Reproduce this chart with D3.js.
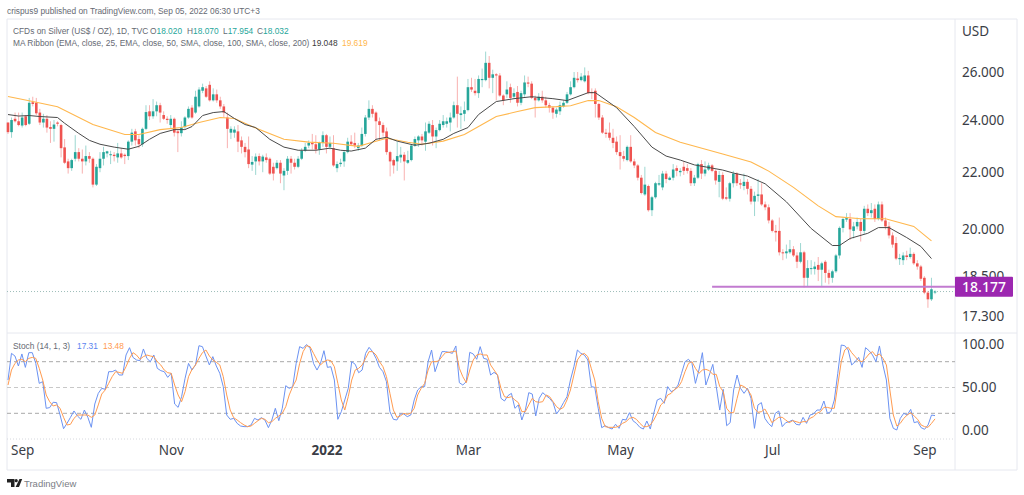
<!DOCTYPE html>
<html>
<head>
<meta charset="utf-8">
<script src="https://cdn.jsdelivr.net/npm/d3@7"></script>
<style>
  html, body { margin: 0; padding: 0; background: #fff; }
  svg { display: block; }
  text { font-family: "Noto Sans", sans-serif; }
  text.small { font-family: "Liberation Sans", sans-serif; }
</style>
</head>
<body>
<svg id="chart" width="1024" height="495"></svg>
<script>
// daily candles, each row is [open, close, high, low]
const candleRows = [
[23.9,23.52,23.9,23.45],[23.52,24.0,24.1,23.3],[24.05,23.95,24.3,23.9],[23.95,23.8,24.3,23.75],[23.78,24.1,24.3,23.7],[24.15,23.8,24.2,23.75],
[23.85,24.7,24.9,23.8],[24.72,24.65,24.95,24.55],[24.7,24.27,24.9,24.2],[24.3,23.9,24.45,23.8],[23.9,24.05,24.25,23.7],[24.05,23.7,24.2,23.5],
[23.72,23.65,23.95,23.1],[23.65,23.82,24.0,23.15],[23.9,23.85,23.95,23.75],[23.8,22.9,23.85,22.55],[22.93,22.35,23.25,22.3],[22.4,22.15,22.5,21.95],
[22.15,22.45,22.5,22.05],[22.5,22.75,23.4,22.4],[22.75,22.5,22.9,22.4],[22.5,22.4,22.85,21.95],[22.4,22.6,23.0,22.25],[22.6,22.5,22.75,22.35],
[22.5,21.55,22.55,21.45],[21.55,22.2,22.3,21.5],[22.15,22.5,22.75,22.0],[22.5,22.75,22.95,22.25],[22.7,22.78,22.8,22.55],[22.65,22.67,22.8,22.3],
[22.65,22.6,22.75,22.4],[22.55,22.7,23.1,22.35],[22.7,22.55,22.9,22.5],[22.65,22.6,22.7,22.3],[22.6,23.15,23.2,22.45],[23.15,23.5,23.65,23.0],
[23.55,23.2,23.65,23.0],[23.25,23.05,23.4,22.9],[23.05,23.65,23.7,22.95],[23.65,24.32,24.6,23.6],[24.35,24.15,24.6,24.0],[24.15,24.35,24.85,24.05],
[24.35,24.6,24.75,24.15],[24.6,24.3,24.7,23.9],[24.2,24.05,24.35,24.0],[24.05,24.0,24.15,23.85],[23.8,24.05,24.2,23.65],
[24.05,23.5,24.1,23.35],[23.55,23.48,23.6,22.75],[23.48,23.7,23.95,23.35],[23.72,24.1,24.15,23.65],[24.1,24.45,24.55,24.05],[24.5,24.1,24.6,24.05],
[24.3,24.95,25.2,24.25],[24.55,25.25,25.35,24.5],[25.2,25.35,25.5,25.1],[25.3,24.95,25.4,24.9],[25.45,24.8,25.6,24.75],[24.8,25.05,25.3,24.75],
[25.05,24.8,25.25,24.7],[24.8,24.55,24.95,24.45],[24.55,24.3,24.65,24.1],[24.1,23.65,24.3,22.9],[23.5,23.65,23.75,23.25],[23.5,23.62,23.75,23.3],
[23.55,23.15,23.8,22.75],[23.2,22.95,23.35,22.7],[22.95,22.75,23.1,22.55],[22.85,22.3,23.35,22.15],[22.28,22.38,22.6,22.05],[22.4,22.58,22.7,21.9],
[22.6,22.4,22.7,22.25],[22.4,22.58,22.65,22.0],[22.55,22.45,22.7,22.35],[22.5,21.95,22.55,21.9],[22.2,21.95,22.35,21.7],[22.15,22.35,22.45,22.1],
[22.35,21.95,22.45,21.6],[21.88,22.05,22.15,21.35],[22.05,22.5,22.6,21.9],[22.5,22.35,22.6,21.95],[22.35,22.2,22.5,22.1],[22.2,22.5,22.6,22.15],
[22.5,22.8,22.9,22.45],[22.8,22.95,23.1,22.75],[23.0,23.1,23.2,22.9],[23.1,23.05,23.45,22.85],[23.05,22.85,23.4,22.7],[22.85,23.1,23.15,22.65],
[23.1,23.4,23.55,22.95],[23.4,22.95,23.45,22.7],[22.95,23.1,23.35,22.85],[22.9,22.25,23.4,22.2],[22.15,22.3,22.4,22.0],[22.3,22.35,22.5,22.2],
[22.4,22.75,22.8,22.2],[22.75,23.15,23.3,22.7],[23.15,23.05,23.4,23.0],[23.1,23.0,23.5,22.9],[22.9,23.0,23.1,22.8],[23.0,23.45,23.7,22.95],
[23.45,24.1,24.2,23.35],[24.1,24.45,24.8,24.0],[24.45,24.25,24.6,24.1],[24.3,23.95,24.35,23.2],[23.95,23.8,24.1,23.2],[23.8,23.5,23.9,23.35],
[23.55,22.75,23.7,22.65],[22.75,22.4,22.8,21.85],[22.45,22.25,22.5,21.95],[22.4,22.6,23.15,22.05],[22.55,22.65,22.95,22.35],[22.65,22.4,22.75,21.7],
[22.35,22.45,22.8,22.3],[22.45,23.0,23.05,22.4],[23.0,23.25,23.35,22.95],[23.2,23.35,23.4,22.95],[23.35,23.2,23.45,23.0],[23.15,23.55,23.9,22.8],
[23.5,23.85,23.95,23.45],[23.8,23.35,24.0,23.0],[23.35,23.6,23.7,22.9],[23.6,23.85,24.0,23.55],[23.8,23.95,24.2,23.7],[23.85,23.95,24.1,23.7],
[23.9,24.1,24.3,23.55],[24.1,24.6,24.75,24.05],[24.6,24.25,25.8,23.7],[24.2,24.27,24.55,23.65],[24.25,24.4,24.75,23.95],[24.4,25.35,25.7,24.35],
[25.35,25.25,25.75,25.15],[25.2,25.1,25.7,25.0],[25.1,25.7,25.85,24.9],[25.65,25.7,26.15,25.35],[25.65,26.4,26.9,25.6],[26.4,25.75,26.7,25.3],
[25.75,25.9,26.1,25.1],[25.9,25.85,25.95,24.8],[25.85,25.0,25.95,24.95],[25.0,24.8,25.05,24.6],[25.05,25.25,25.6,24.9],[25.35,24.9,25.5,24.7],
[24.95,25.1,25.3,24.85],[25.15,24.7,25.4,24.55],[24.7,25.1,25.2,24.6],[25.05,25.55,25.85,24.95],[25.55,25.5,25.8,25.35],[25.5,24.9,25.6,24.85],
[24.9,24.8,25.0,24.1],[24.8,24.95,25.1,24.75],[24.95,24.8,25.2,24.7],[24.8,24.6,24.95,24.5],[24.6,24.5,24.7,24.3],[24.5,24.3,24.55,24.05],
[24.25,24.42,24.5,24.1],[24.35,24.6,24.75,24.2],[24.55,24.7,24.8,24.5],[24.7,25.05,25.15,24.65],[25.05,25.35,25.6,25.0],[25.35,25.75,26.0,25.3],
[25.72,25.65,26.0,25.55],[25.65,25.8,25.95,25.6],[25.6,25.85,26.2,25.55],[25.85,25.1,26.05,25.05],[25.15,25.1,25.3,24.85],[25.2,24.65,25.3,24.1],
[24.65,24.1,24.7,24.0],[24.1,23.5,24.2,23.45],[23.5,23.45,23.65,23.3],[23.5,23.3,23.9,23.2],[23.3,23.1,23.65,22.9],[23.15,22.75,23.35,22.65],
[22.75,22.6,23.4,22.1],[22.6,22.5,22.8,22.4],[22.45,22.95,23.0,22.4],[22.95,22.4,23.4,22.35],[22.4,22.25,22.5,22.15],[22.25,21.8,22.3,21.7],
[21.8,21.25,21.9,21.2],[21.2,21.55,22.2,21.15],[21.5,20.65,21.55,20.6],[20.65,21.1,21.15,20.45],[21.1,21.6,21.65,21.05],[21.55,21.6,21.9,21.5],
[21.45,21.95,22.05,21.35],[21.95,21.75,22.05,21.6],[21.72,21.8,21.85,21.7],[21.8,22.1,22.3,21.7],[22.15,22.05,22.25,21.85],[22.0,22.05,22.15,21.85],
[22.2,22.05,22.4,21.9],[22.15,22.05,22.3,21.95],[22.05,21.6,22.15,21.5],[21.6,21.8,21.9,21.5],[21.8,22.3,22.35,21.75],[22.3,21.95,22.45,21.75],
[21.95,22.1,22.4,21.85],[22.1,22.25,22.35,22.05],[22.25,22.05,22.3,22.0],[22.05,21.7,22.1,21.55],[21.65,21.9,22.05,21.1],[21.9,21.05,22.0,21.0],
[21.1,21.05,21.45,21.0],[21.05,21.6,21.65,20.95],[21.6,21.95,22.05,21.45],[21.95,21.6,22.0,21.5],[21.6,21.55,21.75,21.4],[21.5,21.65,21.95,21.35],
[21.65,21.4,21.75,21.2],[21.4,20.95,21.5,20.85],[20.95,21.15,21.3,20.45],[21.15,21.2,21.75,20.95],[21.2,20.85,21.6,20.8],[20.85,20.75,20.95,20.65],
[20.75,20.3,20.85,20.2],[20.3,19.95,20.35,19.9],[19.95,19.9,20.15,19.6],[19.95,19.25,20.4,19.15],[19.25,19.22,19.35,19.0],[19.22,19.28,19.5,19.05],
[19.25,19.35,19.65,19.2],[19.35,19.15,19.45,19.1],[19.15,18.95,19.25,18.75],[18.95,19.25,19.55,18.9],[19.25,18.45,19.3,18.15],[18.45,18.75,19.0,18.2],
[18.72,18.75,19.0,18.55],[18.72,18.8,18.95,18.55],[18.85,18.7,19.1,18.35],[18.7,18.9,18.95,18.2],[18.95,18.6,19.0,18.3],[18.6,18.45,18.7,18.25],
[18.45,18.65,18.7,18.3],[18.65,19.15,19.2,18.6],[19.15,20.05,20.1,19.05],[20.05,20.35,20.4,19.9],[20.33,20.38,20.55,20.25],[20.35,20.0,20.55,19.65],
[19.95,20.1,20.25,19.7],[20.1,20.25,20.4,20.0],[20.25,19.95,20.35,19.6],[19.95,20.7,20.8,19.85],[20.7,20.55,20.85,20.45],[20.55,20.65,20.9,20.4],
[20.7,20.35,20.85,20.25],[20.35,20.85,20.95,20.3],[20.85,20.3,20.95,20.25],[20.3,20.1,20.4,20.0],[20.1,19.8,20.25,19.7],[19.8,19.5,19.9,19.4],
[19.55,19.05,19.75,19.0],[19.03,19.07,19.2,18.85],[19.0,19.15,19.25,18.85],[19.15,19.1,19.3,19.0],[19.1,19.2,19.4,19.05],[19.2,18.9,19.25,18.85],
[18.9,18.8,19.0,18.7],[18.8,18.42,18.85,18.35],[18.45,18.0,18.5,17.95],[18.0,17.8,18.05,17.55],[17.8,18.1,18.45,17.75],[18.02,18.032,18.07,17.954]
];

// moving averages, read at the candle numbers in the *Days arrays
const ema25Days = [0,3,6,9,14,16,20,23,26,30,34,37,40,43,47,50,52,55,58,61,64,67,70,74,78,82,87,91,94,97,101,104,107,110,115,119,123,126,130,133,138,143,148,154,158,164,166,172,177,182,186,190,194,202,205,209,214,220,227,233,235,238,243,246,249,254,258,261];
const ema25 = [24.22,24.16,24.18,24.14,24.1,23.87,23.47,23.2,23.05,22.94,22.86,22.97,23.24,23.47,23.62,23.62,23.74,24.18,24.3,24.34,24.06,23.82,23.7,23.24,22.94,22.82,22.82,22.9,22.82,22.79,22.9,23.24,23.32,23.17,23.01,23.09,23.24,23.47,23.7,24.22,24.75,24.87,24.95,24.87,24.79,25.12,25.12,24.5,23.74,22.94,22.6,22.45,22.27,22.08,21.97,21.86,21.58,20.94,20.03,19.47,19.47,19.7,19.87,20.06,20.06,19.73,19.44,19.05];
const ema50Days = [0,7,14,24,33,37,43,49,54,60,64,69,78,85,92,99,103,107,113,117,123,129,133,138,144,149,155,159,164,167,172,177,183,190,202,210,215,222,229,234,241,248,256,261];
const ema50 = [24.96,24.75,24.54,23.82,23.43,23.43,23.62,23.7,23.9,24.1,24.06,23.74,23.24,23.13,23.09,22.97,23.13,23.28,23.13,23.05,23.17,23.43,23.74,24.14,24.34,24.5,24.54,24.58,24.79,24.79,24.54,24.1,23.51,23.13,22.68,22.38,22.04,21.45,20.8,20.43,20.36,20.36,20.1,19.619];

// stochastic %K and %D
const stochK = [
58.7,89.7,86.6,75,89,73.4,90.5,90.5,78,54.8,56.8,25.8,26.6,32.8,32.4,18,2.1,8.3,15.3,22.7,16.9,13,23.8,15.3,3.7,30.8,43.2,49,47.9,68.4,68.4,70.3,64.5,64.5,87.8,96.3,85,82,81.2,94.8,83.9,80,87.8,72.3,69.6,68.4,61.8,66.5,30.8,26.9,39.3,60.7,78,70.3,76.2,98.6,97.5,86.6,76.2,85.9,75,66.5,51,18,13,14.1,8.3,5.2,4.5,4.5,6.4,14.1,12.2,14.9,12.2,3.3,12.2,25.8,11.4,25.8,52.1,49,51,78,97.5,95.5,100,95.5,78,70.3,78,92.8,73.4,74.2,58.7,13,21.9,
35.5,49,80,77,67.2,70.3,89.7,96.7,91.7,83.9,73.4,68.4,56.8,21.9,13,12.2,19.2,19.2,16.1,18,35.5,47.1,51,51,80,93.6,68.4,80,91.7,91.7,90.9,89.7,98.3,55.6,52.9,56.8,90.9,89,82.8,97.5,83.9,82.8,64.5,67.6,64.5,37.4,34.3,40.5,43.2,25.8,29.7,12.2,23.8,44,42.4,16.9,37.4,44,40.5,37.4,32.4,19.2,25,32.4,39.3,58.7,74.2,93.6,89.7,87.8,82,51,50.2,25.8,3.3,5.6,3.3,1.7,7.2,2.5,13,12.2,20.7,11.4,8.3,3.7,1.7,11,1.7,20,35.5,37.4,31.6,51,45.2,47.1,52.9,66.5,
80,82.8,78,54.8,70.3,90.5,52.9,64.5,76.9,51,23.8,47.9,5.6,9.1,47.1,64.5,49,43.2,49,37.4,2.5,29.7,32.4,14.1,8.3,4.5,20,22.7,4.5,9.1,10.3,12.2,7.2,6.4,15.3,8.3,18,19.2,23.8,23.8,34.3,20,21.9,35.5,66.5,99.4,98.6,93.6,76.2,80,85,73.4,96.3,92.8,87.8,80,98.3,76.2,58.7,14.1,2.5,0.6,14.1,20,18,24.6,9.1,10.3,3.3,1.4,6.4,18,17.31
];
const stochD = [
52.9,70.3,78,82,82.8,80,83.9,85,83.9,72.3,58.7,41.3,33.5,28.5,29.7,25.8,15.3,6.4,7.2,14.1,18,18,18,18,15.3,18,29.7,42.4,47.1,54.8,62.6,68.4,67.6,66.5,74.2,83.9,90.5,87.8,82.8,85.9,87.8,86.6,85.9,80,76.2,70.3,67.2,66.5,52.9,41.3,33.5,45.2,62.6,71.1,76.2,83.9,90.5,93.6,86.6,82,79.3,76.2,62.6,41.3,23.8,14.9,12.2,9.1,6.4,4.5,5.2,8.3,11.4,14.1,13,9.1,10.3,14.1,16.9,20,27.7,41.3,51,58.7,78,91.7,98.6,97.5,89.7,82,76.2,80,82,81.2,74.2,54.8,35.5,
23.8,39.3,58.7,70.3,72.3,76.2,83.9,91.7,91.7,87.8,80,74.2,62.6,43.2,23.8,15.3,16.9,20,18.8,20,25.8,41.3,49,54.8,70.3,80,80,80.8,85.9,90.5,90.9,91.7,92.4,72.3,62.6,55.6,70.3,82,87.8,89,87.8,87.8,76.2,70.3,64.5,49,39.3,38.2,39.3,35.5,32.4,21.9,21.9,29.7,37.4,33.5,32.8,33.5,41.3,39.3,33.5,27.7,24.6,26.9,35.5,47.1,64.5,82,87.8,89.7,85.9,72.3,58.7,33.5,14.1,4.5,3.7,3.7,3.7,5.2,8.3,10.3,14.1,15.3,13,8.3,4.5,4.5,6.4,12.2,20,29.7,33.5,41.3,43.2,47.9,50.2,56.8,
68.4,78,80,72.3,66.5,70.3,71.1,69.6,65.3,65.3,51,45.2,25.8,20.7,20.7,37.4,52.9,51,47.9,41.3,25.8,21.1,21.9,25,18,9.1,12.2,15.3,15.3,12.2,9.1,11.4,10.3,9.1,10.3,10.3,14.1,16.1,20,21.9,26.9,26.9,25.8,25.8,52.9,80,93.6,96.7,90.5,85.9,81.2,80,83.9,89,91.7,86.6,89,83.9,76.2,47.1,18,5.2,8.3,14.1,18,20.7,16.9,13,6.4,4.5,3.7,8.3,13.48
];

const priceTicks = [26, 24, 22, 20, 18.5, 17.3];
const stochTicks = [100, 50, 0];
const stochBands = [80, 50, 20];
const timeTickDays = [4, 46, 90, 130, 173, 216, 259];
const timeTickLabels = ["Sep", "Nov", "2022", "Mar", "May", "Jul", "Sep"];
const lastClose = 18.032;
const supportLevel = 18.177;
const supportStartDay = 199;

const upColor = "#26a69a", downColor = "#ef5350";
const axisX = 955, frameL = 7, frameR = 1017;
const smallSize = 8.35;
const svg = d3.select("#chart");

const x = d3.scaleLinear().domain([0, candleRows.length - 1]).range([8, 935]);
const xStoch = d3.scaleLinear().domain([0, stochK.length - 1]).range([8, 935]);
const y = d3.scaleLog().domain([26, 17.3]).range([72, 316.4]);
const yStoch = d3.scaleLinear().domain([0, 100]).range([430.5, 344.5]);

// frame of the panes
const borders = [[frameL, 19, frameR, 19], [frameL, 19, frameL, 470], [frameL, 470, frameR, 470],
  [frameR, 19, frameR, 470], [axisX, 19, axisX, 470], [frameL, 333, frameR, 333]];
svg.selectAll(".border").data(borders).enter().append("line")
  .attr("x1", d => d[0]).attr("y1", d => d[1]).attr("x2", d => d[2]).attr("y2", d => d[3])
  .attr("stroke", "#e6e8ef").attr("stroke-width", 1);
svg.append("line").attr("x1", frameL).attr("x2", axisX).attr("y1", 439).attr("y2", 439)
  .attr("stroke", "#d6d8de").attr("stroke-dasharray", "1,2");

// last price dotted line
svg.append("line").attr("x1", frameL).attr("x2", axisX).attr("y1", y(lastClose)).attr("y2", y(lastClose))
  .attr("stroke", "#9dbdb9").attr("stroke-dasharray", "1,2");

// candles
const candle = svg.append("g").selectAll("g").data(candleRows).enter().append("g");
const candleColor = d => d[1] >= d[0] ? upColor : downColor;
candle.append("line")
  .attr("x1", (d, i) => x(i)).attr("x2", (d, i) => x(i))
  .attr("y1", d => y(d[2])).attr("y2", d => y(d[3]))
  .attr("stroke", candleColor).attr("stroke-opacity", 0.45).attr("stroke-width", 1);
candle.append("rect")
  .attr("x", (d, i) => x(i) - 1.3).attr("width", 2.6)
  .attr("y", d => y(Math.max(d[0], d[1])))
  .attr("height", d => Math.max(1, y(Math.min(d[0], d[1])) - y(Math.max(d[0], d[1]))))
  .attr("fill", candleColor);

// moving averages
const maLine = days => d3.line().x((d, i) => x(days[i])).y(d => y(d));
svg.append("path").attr("d", maLine(ema50Days)(ema50)).attr("fill", "none").attr("stroke", "#ffb74d").attr("stroke-width", 1.1);
svg.append("path").attr("d", maLine(ema25Days)(ema25)).attr("fill", "none").attr("stroke", "#4a4a4a").attr("stroke-width", 1);

// stochastic pane
svg.selectAll(".band").data(stochBands).enter().append("line")
  .attr("x1", frameL).attr("x2", axisX).attr("y1", d => yStoch(d)).attr("y2", d => yStoch(d))
  .attr("stroke", d => d === 50 ? "#c8c8c8" : "#a8a8a8").attr("stroke-dasharray", "4,3");
const stochLine = d3.line().x((d, i) => xStoch(i)).y(d => yStoch(d));
svg.append("path").attr("d", stochLine(stochK)).attr("fill", "none").attr("stroke", "#6b92f2").attr("stroke-width", 1);
svg.append("path").attr("d", stochLine(stochD)).attr("fill", "none").attr("stroke", "#ff9b50").attr("stroke-width", 1);

// axes
const styleAxis = g => {
  g.select(".domain").remove();
  g.selectAll("text").attr("font-family", '"Noto Sans", sans-serif').attr("font-size", 13.5).attr("fill", "#3a3d46");
};
svg.append("g").attr("transform", `translate(${axisX},0)`)
  .call(d3.axisRight(y).tickValues(priceTicks).tickFormat(d3.format(".3f")).tickSize(0).tickPadding(7))
  .call(styleAxis);
svg.append("g").attr("transform", `translate(${axisX},0)`)
  .call(d3.axisRight(yStoch).tickValues(stochTicks).tickFormat(d3.format(".2f")).tickSize(0).tickPadding(7))
  .call(styleAxis);
svg.append("g").attr("transform", "translate(0,439)")
  .call(d3.axisBottom(x).tickValues(timeTickDays).tickFormat((d, i) => timeTickLabels[i]).tickSize(0).tickPadding(6))
  .call(styleAxis)
  .selectAll("text").attr("font-weight", (d, i) => timeTickLabels[i] === "2022" ? 700 : 400);

// support level and its label
svg.append("line").attr("x1", x(supportStartDay)).attr("x2", axisX).attr("y1", y(supportLevel)).attr("y2", y(supportLevel))
  .attr("stroke", "#c27bd0").attr("stroke-width", 2);
svg.append("rect").attr("x", axisX).attr("y", y(supportLevel) - 10).attr("width", 58).attr("height", 20)
  .attr("fill", "#9c27b0").attr("rx", 1);
svg.append("text").attr("x", axisX + 29).attr("y", y(supportLevel) + 5).attr("text-anchor", "middle")
  .attr("font-size", 14).attr("font-weight", 500).attr("fill", "#fff").text(supportLevel.toFixed(3));

// texts
const label = (tx, ty, s, size, fill) => svg.append("text").attr("class", "small").attr("x", tx).attr("y", ty)
  .attr("font-size", size).attr("fill", fill).text(s);
label(962, 36, "USD", 13.5, "#3a3d46").attr("class", null);
label(7, 14, "crispus9 published on TradingView.com, Sep 05, 2022 06:30 UTC+3", smallSize, "#666a73");
label(13, 33.5, "CFDs on Silver (US$ / OZ), 1D, TVC", smallSize, "#666a73");
[[150, "O", "18.020"], [187, "H", "18.070"], [223, "L", "17.954"], [257, "C", "18.032"]].forEach(d => {
  const t = label(d[0], 33.5, d[1], smallSize, "#666a73");
  t.append("tspan").attr("fill", upColor).text(d[2]);
});
label(13, 46, "MA Ribbon (EMA, close, 25, EMA, close, 50, SMA, close, 100, SMA, close, 200)", smallSize, "#666a73");
label(312, 46, "19.048", smallSize, "#3a3a3a");
label(342, 46, "19.619", smallSize, "#ffb74d");
label(13, 348.5, "Stoch (14, 1, 3)", smallSize, "#666a73");
label(77, 348.5, "17.31", smallSize, "#5b84f0");
label(103, 348.5, "13.48", smallSize, "#ff9b50");

// TradingView mark
svg.append("path").attr("d", "M7 479h7.5v8h-3.5v-4.5h-4zM19.5 479h2.7l-3.2 8h-3.4z").attr("fill", "#222");
svg.append("circle").attr("cx", 16.2).attr("cy", 480.7).attr("r", 1.6).attr("fill", "#222");
label(24, 487, "TradingView", 9.5, "#7a7d85");
</script>
</body>
</html>
